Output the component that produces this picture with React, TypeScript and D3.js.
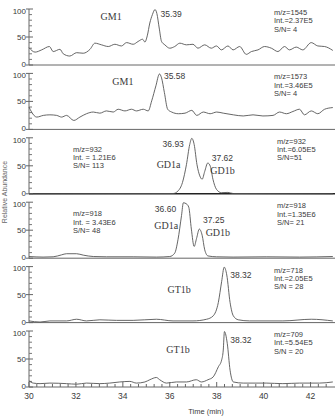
import React from "react";
import * as d3 from "d3";

type Pt = [number, number];

// extracted ion chromatograms, [time (min), relative abundance]
const trace1545: Pt[] = [
  [30, 31], [30.26, 23], [30.54, 27], [30.87, 33], [31.03, 24], [31.32, 28], [31.46, 20],
  [31.74, 16], [32.03, 22], [32.31, 21], [32.6, 28], [32.81, 39], [33.09, 36], [33.38, 33],
  [33.66, 37], [33.94, 34], [34.16, 40], [34.44, 37], [34.65, 42], [34.84, 46], [34.94, 41],
  [35.04, 52], [35.15, 75], [35.26, 90], [35.37, 99], [35.45, 92], [35.55, 66], [35.65, 42],
  [35.79, 36], [36.0, 30], [36.21, 33], [36.43, 39], [36.71, 36], [36.99, 37], [37.2, 30],
  [37.49, 36], [37.77, 30], [37.99, 34], [38.2, 27], [38.48, 34], [38.7, 27], [38.98, 33],
  [39.26, 19], [39.48, 24], [39.76, 27], [40.04, 33], [40.33, 30], [40.61, 24], [40.89, 33],
  [41.1, 27], [41.39, 32], [41.67, 27], [42.03, 40], [42.31, 34], [42.6, 33], [42.95, 26],
];

const trace1573: Pt[] = [
  [30, 40], [30.11, 31], [30.33, 22], [30.61, 25], [30.89, 26], [31.18, 25], [31.39, 22],
  [31.6, 25], [31.91, 16], [32.17, 22], [32.45, 28], [32.74, 31], [33.02, 29], [33.3, 33],
  [33.59, 31], [33.8, 36], [34.09, 33], [34.37, 36], [34.58, 33], [34.87, 36], [35.08, 33],
  [35.23, 51], [35.41, 78], [35.56, 99], [35.65, 92], [35.77, 66], [35.91, 36], [36.08, 31],
  [36.37, 28], [36.65, 29], [36.94, 34], [37.15, 25], [37.43, 31], [37.72, 28], [38.0, 31],
  [38.28, 29], [38.71, 26], [39.13, 24], [39.55, 26], [39.97, 24], [40.4, 25], [40.68, 31],
  [40.97, 28], [41.25, 32], [41.53, 36], [41.74, 26], [42.03, 33], [42.31, 28], [42.6, 36],
  [42.95, 39],
];

const trace932: Pt[] = [
  [30, 0], [36.14, 0.5], [36.35, 5], [36.54, 20], [36.71, 52], [36.85, 88], [36.94, 99],
  [37.04, 88], [37.16, 52], [37.28, 32], [37.38, 26], [37.49, 40], [37.62, 55], [37.73, 49],
  [37.84, 26], [37.99, 8], [38.2, 2], [38.48, 2.5], [38.7, 0.5], [42.95, 0],
];

const trace918: Pt[] = [
  [30, 3], [30.6, 2], [31.03, 2.5], [31.39, 6], [31.6, 8], [32.03, 8], [32.31, 5.5],
  [32.74, 3], [33.3, 2.5], [34.44, 2.5], [35.43, 2], [36.0, 3], [36.21, 9], [36.35, 33],
  [36.5, 76], [36.58, 99], [36.71, 97], [36.81, 91], [36.92, 52], [37.04, 21], [37.14, 35],
  [37.26, 52], [37.38, 41], [37.49, 15], [37.63, 4], [37.99, 2.5], [38.7, 2], [40.11, 2.5],
  [41.53, 2], [42.95, 3],
];

const trace718: Pt[] = [
  [30, 3], [30.47, 1], [30.89, 3], [31.6, 3], [32.03, 6], [32.45, 3], [33.02, 5], [33.73, 4],
  [34.44, 4], [35.43, 6], [36.14, 3], [36.99, 3], [37.57, 6], [37.85, 12], [38.07, 36],
  [38.21, 73], [38.32, 99], [38.43, 85], [38.57, 36], [38.71, 12], [38.92, 5], [39.4, 3],
  [40.82, 3], [42.03, 6], [42.95, 3],
];

const trace709: Pt[] = [
  [30, 11], [30.18, 7], [30.47, 6], [30.89, 7], [31.6, 6], [32.03, 5], [32.45, 7], [33.02, 6],
  [33.44, 7], [33.87, 9], [34.3, 10], [34.58, 7], [34.94, 9], [35.15, 13], [35.43, 17],
  [35.57, 13], [35.86, 7], [36.28, 9], [36.71, 9], [37.13, 13], [37.35, 9], [37.63, 13],
  [37.85, 18], [38.07, 36], [38.21, 48], [38.28, 66], [38.33, 99], [38.45, 78], [38.57, 30],
  [38.71, 9], [39.13, 7], [40.11, 7], [40.82, 6], [41.53, 7], [42.38, 7], [42.95, 9],
];

const traces = [trace1545, trace1573, trace932, trace918, trace718, trace709];

// peak apex labels per panel
const peakLabels: Pt[][] = [
  [[35.39, 99]],
  [[35.58, 99]],
  [[36.93, 99], [37.62, 55]],
  [[36.6, 99], [37.25, 52]],
  [[38.32, 99]],
  [[38.32, 99]],
];

const compoundNames: string[][] = [
  ["GM1"], ["GM1"], ["GD1a", "GD1b"], ["GD1a", "GD1b"], ["GT1b"], ["GT1b"],
];

const rightNotes: string[][] = [
  ["m/z=1545", "Int.=2.37E5", "S/N= 4"],
  ["m/z=1573", "Int.=3.46E5", "S/N= 4"],
  ["m/z=932", "Int.=6.05E5", "S/N=51"],
  ["m/z=918", "Int.=1.35E6", "S/N= 21"],
  ["m/z=718", "Int.=2.05E5", "S/N = 28"],
  ["m/z=709", "Int.=5.54E5", "S/N = 20"],
];

const leftNotes: (string[] | null)[] = [
  null, null,
  ["m/z=932", "Int. = 1.21E6", "S/N= 113"],
  ["m/z=918", "Int. = 3.43E6", "S/N= 48"],
  null, null,
];

const xTicks = [30, 32, 34, 36, 38, 40, 42];
const yTicks = [0, 50, 100];

const W = 335;
const H = 416;
const ink = "#3a3a3a";
const sans = "Liberation Sans, Arial, sans-serif";
const serif = "Liberation Serif, Times New Roman, serif";

// label offsets: x in px from the apex time, y in px from the panel's zero line
const peakLabelOffsets: [number, number][][] = [
  [[5, -48]],
  [[4, -50]],
  [[-29, -47], [4, -33]],
  [[-29, -46], [4, -35]],
  [[6, -45]],
  [[6, -44]],
];
// compound names: [time, px above zero]
const namePos: [number, number][][] = [
  [[33.5, 45]],
  [[34.0, 44]],
  [[35.95, 26], [38.25, 20]],
  [[35.85, 29], [38.05, 22]],
  [[36.4, 30]],
  [[36.35, 34]],
];

const App: React.FC = () => {
  const x = d3.scaleLinear().domain([30, 43]).range([29, 334]);
  const panelH = 56;
  const zeros = d3.range(6).map((i) => 65 + i * 64.4);

  return (
    <svg
      width={W}
      height={H}
      style={{ position: "absolute", left: 0, top: 0, background: "#fff" }}
    >
      {traces.map((tr, i) => {
        const y0 = zeros[i];
        const y = d3.scaleLinear().domain([0, 100]).range([y0, y0 - panelH]);
        const line = d3
          .line<Pt>()
          .x((d) => x(d[0]))
          .y((d) => y(d[1]))
          .curve(d3.curveMonotoneX)(tr) || "";
        return (
          <g key={i}>
            {/* zero line across the panel */}
            <line x1={x(30)} x2={W} y1={y0} y2={y0} stroke={i === 2 ? "#222" : "#666"} strokeWidth={i === 2 ? 1.6 : 1} />
            {/* y axis */}
            <line x1={x(30)} x2={x(30)} y1={y0} y2={y(100)} stroke="#666" />
            {d3.range(10, 100, 10).filter((v) => v !== 50).map((v) => (
              <line key={v} x1={x(30)} x2={x(30) + 3} y1={y(v)} y2={y(v)} stroke="#777" />
            ))}
            {yTicks.map((v) => (
              <g key={v}>
                <line x1={x(30) - 3} x2={x(30) + 4} y1={y(v)} y2={y(v)} stroke="#666" />
                <text
                  x={x(30) - 3}
                  y={y(v) + (v === 0 ? 2 : v === 100 ? 4.8 : 3)}
                  textAnchor="end"
                  fontFamily={sans}
                  fontSize={8}
                  fill={ink}
                >
                  {v}
                </text>
              </g>
            ))}
            <path d={line} fill="none" stroke="#555" strokeWidth={0.9} />
            {peakLabels[i].map((p, k) => (
              <text
                key={k}
                x={x(p[0]) + peakLabelOffsets[i][k][0]}
                y={y0 + peakLabelOffsets[i][k][1]}
                fontFamily={sans}
                fontSize={8.5}
                fill={ink}
              >
                {p[0].toFixed(2)}
              </text>
            ))}
            {compoundNames[i].map((n, k) => (
              <text
                key={n + k}
                x={x(namePos[i][k][0])}
                y={y0 - namePos[i][k][1]}
                textAnchor="middle"
                fontFamily={serif}
                fontSize={10}
                fill={ink}
              >
                {n}
              </text>
            ))}
            {rightNotes[i].map((s, k) => (
              <text key={k} x={i === 2 || i === 3 ? 277 : 274} y={y0 - 50 + k * 8.3} fontFamily={sans} fontSize={7.5} fill={ink}>
                {s}
              </text>
            ))}
            {leftNotes[i] &&
              leftNotes[i]!.map((s, k) => (
                <text key={k} x={73} y={y0 - 42 + k * 8.3} fontFamily={sans} fontSize={7.5} fill={ink}>
                  {s}
                </text>
              ))}
          </g>
        );
      })}

      {/* time axis */}
      {d3.range(30, 43, 1 / 3).map((t, k) => (
        <line key={k} x1={x(t)} x2={x(t)} y1={zeros[5]} y2={zeros[5] - (k % 6 === 0 ? 5 : 3)} stroke="#666" />
      ))}
      {xTicks.map((t) => (
        <text key={t} x={x(t)} y={zeros[5] + 12} textAnchor="middle" fontFamily={sans} fontSize={8.5} fill={ink}>
          {t}
        </text>
      ))}
      <text x={206} y={414} textAnchor="middle" fontFamily={sans} fontSize={7.5} fill={ink}>
        Time (min)
      </text>
      <text
        transform={`translate(7, 192) rotate(-90)`}
        textAnchor="middle"
        fontFamily={sans}
        fontSize={7}
        fill="#666"
      >
        Relative Abundance
      </text>
    </svg>
  );
};

export default App;
